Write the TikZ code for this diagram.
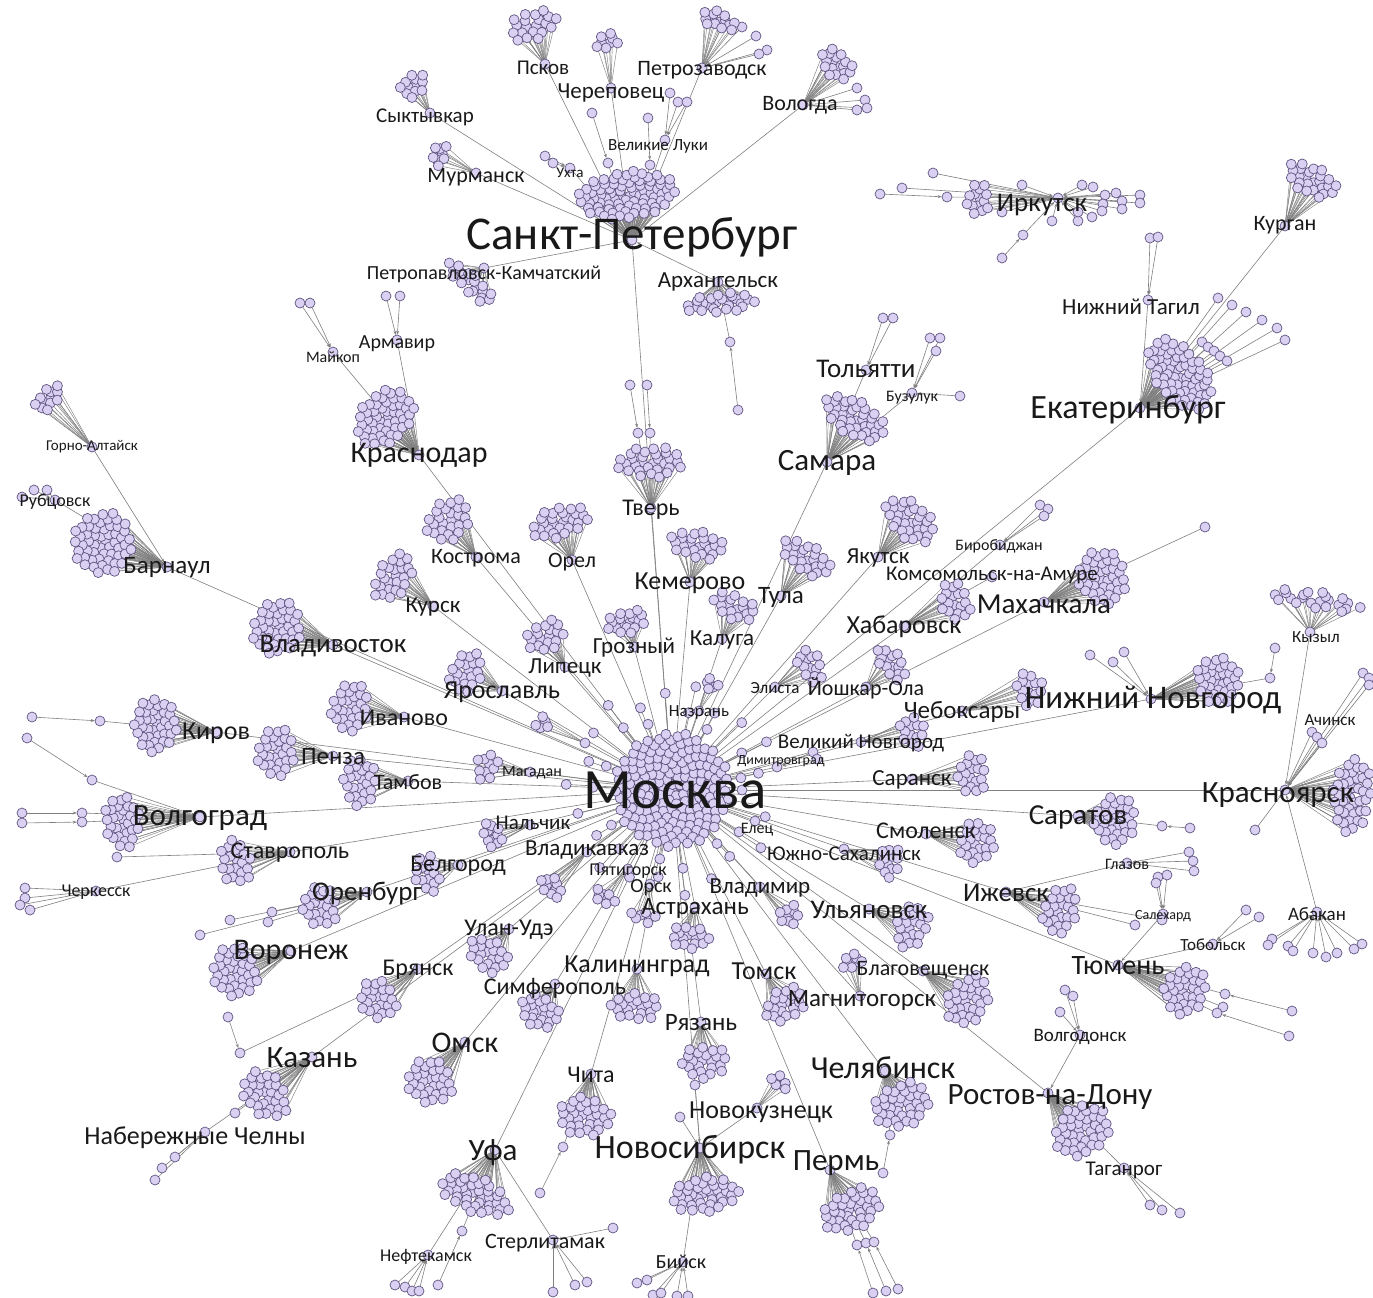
\documentclass[tikz,border=0pt]{standalone}
\usepackage{fontspec}
\setmainfont{Carlito}
\usetikzlibrary{arrows.meta}
\definecolor{nodefill}{RGB}{218,208,242}
\definecolor{nodeline}{RGB}{95,85,130}
\definecolor{edgecol}{RGB}{128,128,128}
\tikzset{
 vtx/.style={circle,draw=nodeline,fill=nodefill,line width=0.7pt,minimum size=10pt,inner sep=0pt},
 dot/.style={draw=nodeline,fill=nodefill,line width=0.7pt},
 fanedge/.style={draw=edgecol,line width=0.45pt},
 linkedge/.style={draw=edgecol,line width=0.6pt,shorten >=5.3pt,-{Stealth[length=4pt,width=3pt]}},
 lbl/.style={text=black!90,inner sep=0pt}
}
% cluster: id/hx/hy/bx/by/n/a/b
\def\clusterlist{spb/632/240/627/195/80/24/50,
pskov/545/64/533/25/20/16/25,
cher/611/88/607/42/8/9/13,
petr/702/68/718/20/14/9/20,
vol/803/105/837/65/18/13/20,
syk/430/113/413/85/12/12/15,
mur/476/173/440/155/8/8/13,
pk/484/268/470/283/20/10/30,
arh/718/282/720/303/26/10/38,
irk/1058/198/978/200/14/12/18,
kurg/1285/226/1312/180/25/15/28,
ekb/1140/408/1180/375/65/25/42,
kras/419/455/385/418/50/25/33,
ga/92/447/48/398/12/10/17,
barn/167/567/103/543/55/30/32,
tver/651/508/650/462/30/16/35,
sam/827/462/855/418/38/18/35,
kost/476/557/448/520/25/20/25,
orel/572/560/560/522/28/16/30,
kursk/433/606/393/577/25/17/27,
kem/690/582/697/545/24/15/28,
tula/781/596/806/558/24/15/28,
yak/878/557/910/520/30/18/30,
kal/722/639/735/607/18/13/25,
groz/634/647/627/622/18/12/22,
lip/565/667/546/636/18/15/22,
vlad/333/645/277/628/40/25/28,
yar/502/691/466/672/20/17/22,
iv/404/717/350/707/28/20/25,
hab/904/626/955/602/18/15/22,
mah/1044/602/1102/577/40/25/28,
el/775/687/810/665/14/12/20,
yo/866/687/892/664/15/12/20,
naz/699/711/712/685/5/6/10,
x1/585/743/543/723/5/7/10,
nn/1151/699/1218/680/35/22/25,
cheb/962/711/1030/690/15/15/18,
vn/861/742/912/732/13/13/18,
kir/216/732/155/725/38/22/28,
penza/333/756/276/752/28/20/25,
tamb/408/781/360/782/24/18/25,
mag/530/772/487/766/10/12/16,
sarn/912/779/972/775/18/15/22,
krs/1285/790/1352/795/40/20/38,
kyz/1310/632/1315/600/22/9/50,
vgg/200/817/122/822/30/18/28,
sarat/1078/816/1115/820/32/22/25,
stav/290/852/235/862/20/17/23,
nal/530/825/492/835/12/10/14,
vk/587/852/552/887/11/10/13,
pyat/628/869/605/897/8/7/13,
orsk/650/884/643/917/7/7/14,
smol/926/834/977/842/22/18/23,
ys/844/849/890/862/12/12/17,
belg/458/865/427/873/15/14/20,
oren/367/892/320/907/22/18/22,
izh/1006/892/1060/910/24/18/25,
ulyan/869/909/912/927/20/17/23,
vladim/760/887/790/915/9/10/13,
astr/695/907/690/937/16/13/20,
uu/509/929/488/955/20/17/22,
vor/291/951/235/972/35/23/27,
bry/418/969/378/1000/22/18/22,
kalin/637/969/635/1007/20/15/25,
simf/555/984/540/1012/22/16/22,
tomsk/766/974/785/1005/20/17/22,
blag/923/971/968/1000/30/20/28,
magn/860/996/852/962/8/8/12,
tyum/1118/965/1185/990/32/22/25,
ryaz/701/1022/705/1062/22/17/25,
omsk/465/1042/430/1082/30/22/25,
kaz/312/1057/265/1095/30/20/28,
chel/885/1071/902/1105/35/22/30,
rost/1048/1093/1082/1130/40/25/30,
chita/591/1074/585/1117/30/20/28,
nk/757/1108/780/1082/7/7/10,
nsk/700/1148/705/1195/38/18/35,
perm/830/1170/852/1210/35/20/32,
ufa/495/1150/475/1195/38/18/38}
% small hubs: id/x/y
\def\hublist{M/672/790,ukh/570/168,vl/665/140,nt/1148/300,mai/333/352,arm/397/340,rub/55/500,
tol/866/370,buz/912/393,bir/1000/545,kna/992/577,dim/777/767,elets/755/821,
cherk/96/891,sal/1163/914,tob/1213/944,glaz/1127/863,abak/1317/912,nch/205/1132,
tag/1124/1168,vdon/1080/1035,biysk/683/1262,neft/428/1255,sterl/553/1240}
% leaves: name/x/y/target
\def\leaflist{uk1/545/156/h-ukh,uk2/553/163/h-ukh,
vl1/670/93/h-vl,vl2/678/102/h-vl,vl3/687/102/h-vl,
sp1/650/165/h-spb,sp2/648/118/sp1,sp3/608/163/h-spb,sp4/592/113/sp3,
pe1/742/27/h-petr,pe2/756/36/h-petr,pe3/767/50/h-petr,pe4/759/54/h-petr,
vo1/857/88/h-vol,vo2/865/100/h-vol,vo3/857/110/h-vol,vo4/867/108/h-vol,
ar1/730/342/h-arh,ar2/738/410/ar1,
ir1/933/173/h-irk,ir2/902/188/h-irk,ir4/947/197/h-irk,ir3/880/194/ir4,
ir5/1022/185/h-irk,ir6/1082/185/h-irk,ir7/1093/187/h-irk,ir8/1105/195/h-irk,ir9/1116/193/h-irk,
ir10/1140/195/h-irk,ir11/1140/203/h-irk,ir12/1122/201/h-irk,ir13/1122/209/h-irk,ir14/1103/204/h-irk,
ir15/1102/211/h-irk,ir16/1092/217/h-irk,ir17/1078/221/h-irk,ir18/1078/212/h-irk,ir19/1052/221/h-irk,
ir20/1002/212/h-irk,ir21/1023/235/h-irk,ir22/1002/258/ir21,
nt1/1150/238/h-nt,nt2/1158/237/h-nt,
ek1/1202/342/h-ekb,ek2/1208/347/h-ekb,ek3/1214/351/h-ekb,ek4/1220/356/h-ekb,ek5/1227/361/h-ekb,
ek6/1218/298/h-ekb,ek7/1232/305/h-ekb,ek8/1246/312/h-ekb,ek9/1262/320/h-ekb,ek10/1277/328/h-ekb,ek11/1285/340/h-ekb,
ma1/300/303/h-mai,ma2/310/303/h-mai,am1/386/296/h-arm,am2/400/296/h-arm,
ru1/22/497/h-rub,ru2/34/490/h-rub,ru3/47/490/h-rub,
tv1/638/433/h-tver,tv2/650/433/h-tver,tv3/630/385/tv1,tv4/647/385/tv2,
to1/883/318/h-tol,to2/893/318/h-tol,
bu1/930/338/h-buz,bu2/940/338/h-buz,bu3/936/351/h-buz,bu4/960/396/h-buz,
bi1/1040/505/h-bir,bi2/1048/509/h-bir,bi3/1044/516/h-bir,
mh1/1205/527/h-mah,
dm1/813/752/h-dim,dm2/817/759/h-dim,
nn1/1090/655/h-nn,nn2/1113/662/h-nn,nn3/1124/652/h-nn,nn4/1270/678/h-nn,nn5/1275/648/nn4,
ac1/1312/732/h-krs,ac2/1317/737/h-krs,ac3/1322/743/h-krs,ac4/1363/673/h-krs,ac5/1369/678/h-krs,ac6/1369/685/h-krs,
kr1/1255/830/h-krs,
vg1/82/813/h-vgg,vg2/82/822/h-vgg,vg3/22/813/vg1,vg4/22/823/vg2,
ki1/100/721/h-kir,ki2/32/717/ki1,vg5/92/780/h-vgg,vg6/27/738/vg5,
st1/117/857/h-stav,
ck1/25/888/h-cherk,ck2/25/898/h-cherk,ck3/30/910/h-cherk,ck4/20/905/h-cherk,
or1/272/912/h-oren,or2/268/922/h-oren,or3/230/920/h-oren,or4/200/935/h-oren,
br1/240/1053/h-bry,br2/228/1017/br1,
ty1/1225/994/h-tyum,ty2/1223/1007/h-tyum,ty3/1217/1013/h-tyum,ty4/1292/1011/ty1,ty5/1289/1036/ty3,
sa1/1158/877/h-sal,sa2/1167/875/h-sal,sa3/1156/883/h-sal,
tb1/1246/910/h-tob,tb2/1259/917/h-tob,
gl1/1189/852/h-glaz,gl2/1193/861/h-glaz,gl3/1194/871/h-glaz,
iz1/1135/925/h-izh,iz2/1162/920/h-izh,
sr1/1162/826/h-sarat,sr2/1190/828/sr1,
ab1/1272/939/h-abak,ab2/1268/945/h-abak,ab3/1288/946/h-abak,ab4/1293/951/h-abak,ab5/1313/953/h-abak,
ab6/1326/957/h-abak,ab7/1337/953/h-abak,ab8/1354/949/h-abak,ab9/1362/944/h-abak,
kz1/235/1113/h-kaz,
nc1/175/1157/h-nch,nc2/162/1168/h-nch,nc3/155/1180/h-nch,
tg1/1150/1205/h-tag,tg2/1162/1210/h-tag,tg3/1180/1213/h-tag,
vd1/1065/990/h-vdon,vd2/1073/996/h-vdon,vd3/1060/1012/h-vdon,
ns1/695/1085/h-nsk,ns2/680/1117/h-nsk,
by1/637/1283/h-biysk,by2/647/1280/h-biysk,by3/653/1295/h-biysk,by4/661/1293/h-biysk,by5/677/1296/h-biysk,by6/688/1296/h-biysk,
pm1/857/1245/h-perm,pm2/866/1243/h-perm,pm3/874/1242/h-perm,pm4/873/1293/pm1,pm5/886/1291/pm2,pm6/898/1289/pm3,
ch1/890/1135/h-chel,ch2/883/1173/ch1,
nf1/395/1285/h-neft,nf2/405/1287/h-neft,nf3/412/1291/h-neft,nf4/419/1291/h-neft,
uf1/462/1231/h-ufa,uf2/438/1285/uf1,
sl1/613/1228/h-sterl,sl2/553/1292/h-sterl,sl3/575/1285/h-sterl,sl4/587/1282/h-sterl,
ct1/563/1147/h-chita,ct2/540/1193/ct1}
% hub links: child/parent
\def\linklist{pskov/spb,cher/spb,petr/spb,vol/spb,syk/spb,mur/spb,ukh/spb,vl/spb,pk/spb,arh/spb,
kurg/ekb,nt/ekb,mai/kras,arm/kras,ga/barn,rub/barn,tol/sam,buz/sam,bir/hab,kna/hab,
kyz/krs,abak/krs,cherk/stav,sal/tyum,tob/tyum,glaz/izh,nch/kaz,tag/rost,vdon/rost,
biysk/nsk,nk/nsk,neft/ufa,sterl/ufa,
spb/M,ekb/M,kras/M,barn/M,tver/M,sam/M,kost/M,orel/M,kursk/M,kem/M,tula/M,yak/M,kal/M,groz/M,
lip/M,vlad/M,yar/M,iv/M,hab/M,mah/M,el/M,yo/M,naz/M,x1/M,nn/M,cheb/M,vn/M,kir/M,penza/M,tamb/M,
mag/M,sarn/M,krs/M,vgg/M,sarat/M,stav/M,nal/M,vk/M,pyat/M,smol/M,ys/M,belg/M,oren/M,izh/M,
ulyan/M,vladim/M,astr/M,uu/M,vor/M,bry/M,kalin/M,simf/M,tomsk/M,blag/M,magn/M,tyum/M,ryaz/M,
omsk/M,kaz/M,chel/M,rost/M,chita/M,nsk/M,perm/M,ufa/M,dim/M,elets/M,orsk/M}

\newcommand\lab[5]{\node[lbl,font=\fontsize{#4}{#4}\selectfont] (t-#1) at (#2,#3) {#5};}

\begin{document}
\begin{tikzpicture}[x=1pt,y=-1pt]
\useasboundingbox (0,0) rectangle (1373,1298);
\fill[white] (0,0) rectangle (1373,1298);

% ---------- pass 1: coordinates ----------
\foreach \cI/\cHx/\cHy/\cBx/\cBy/\cN/\cA/\cB in \clusterlist {\coordinate (h-\cI) at (\cHx,\cHy);}
\foreach \cI/\cX/\cY in \hublist {\coordinate (h-\cI) at (\cX,\cY);}
\foreach \cI/\cX/\cY/\cT in \leaflist {\coordinate (\cI) at (\cX,\cY);}
\foreach \k in {0,...,35}{
 \pgfmathsetmacro\mA{\k*10+3*mod(\k*7,5)}
 \pgfmathsetmacro\mR{70+9*mod(\k*3,5)}
 \pgfmathsetmacro\mX{672+\mR*cos(\mA)}
 \pgfmathsetmacro\mY{790+\mR*sin(\mA)}
 \coordinate (ml-\k) at (\mX,\mY);
}

% ---------- pass 2: connectors ----------
\foreach \cC/\cP in \linklist {\draw[linkedge] (h-\cC) -- (h-\cP);}
\foreach \cI/\cX/\cY/\cT in \leaflist {\draw[linkedge] (\cI) -- (\cT);}
\foreach \k in {0,...,35}{\draw[linkedge] (ml-\k) -- (h-M);}
\foreach \i in {1,...,170}{
 \pgfmathsetmacro\mR{58*sqrt((\i-0.5)/170)}
 \pgfmathsetmacro\mP{mod(\i*13.7508,36)*10}
 \draw[fanedge] (h-M) -- ++(\mP:\mR);
}
\foreach \cI/\cHx/\cHy/\cBx/\cBy/\cN/\cA/\cB in \clusterlist {
 \pgfmathsetmacro\cAng{atan2((\cBy)-(\cHy),(\cBx)-(\cHx))}
 \foreach \i in {1,...,\cN}{
  \pgfmathsetmacro\cRr{sqrt((\i-0.5)/\cN)}
  \pgfmathsetmacro\cPh{mod(\i*13.7508,36)*10}
  \pgfmathsetmacro\cUu{\cA*\cRr*cos(\cPh)}
  \pgfmathsetmacro\cVv{\cB*\cRr*sin(\cPh)}
  \pgfmathsetmacro\cPx{\cBx+\cUu*cos(\cAng)-\cVv*sin(\cAng)}
  \pgfmathsetmacro\cPy{\cBy+\cUu*sin(\cAng)+\cVv*cos(\cAng)}
  \draw[fanedge] (h-\cI) -- (\cPx,\cPy);
 }
}

% ---------- pass 3: vertices ----------
\foreach \cI/\cX/\cY in \hublist {\node[vtx] (v-\cI) at (h-\cI) {};}
\foreach \cI/\cX/\cY/\cT in \leaflist {\node[vtx] (v-\cI) at (\cI) {};}
\foreach \k in {0,...,35}{\node[vtx] (v-ml-\k) at (ml-\k) {};}
\foreach \i in {1,...,170}{
 \pgfmathsetmacro\mR{58*sqrt((\i-0.5)/170)}
 \pgfmathsetmacro\mP{mod(\i*13.7508,36)*10}
 \path[dot] (h-M) ++(\mP:\mR) circle[radius=5];
}
\foreach \cI/\cHx/\cHy/\cBx/\cBy/\cN/\cA/\cB in \clusterlist {
 \node[vtx] (v-\cI) at (h-\cI) {};
 \pgfmathsetmacro\cAng{atan2((\cBy)-(\cHy),(\cBx)-(\cHx))}
 \foreach \i in {1,...,\cN}{
  \pgfmathsetmacro\cRr{sqrt((\i-0.5)/\cN)}
  \pgfmathsetmacro\cPh{mod(\i*13.7508,36)*10}
  \pgfmathsetmacro\cUu{\cA*\cRr*cos(\cPh)}
  \pgfmathsetmacro\cVv{\cB*\cRr*sin(\cPh)}
  \pgfmathsetmacro\cPx{\cBx+\cUu*cos(\cAng)-\cVv*sin(\cAng)}
  \pgfmathsetmacro\cPy{\cBy+\cUu*sin(\cAng)+\cVv*cos(\cAng)}
  \path[dot] (\cPx,\cPy) circle[radius=5];
 }
}

% ---------- labels ----------
\lab{msk}{675}{790}{57}{Москва}
\lab{spb}{632}{237}{47}{Санкт-Петербург}
\lab{pskov}{543}{68}{21}{Псков}
\lab{cher}{611}{93}{23}{Череповец}
\lab{petr}{702}{70}{22}{Петрозаводск}
\lab{vol}{800}{105}{22}{Вологда}
\lab{syk}{425}{117}{21}{Сыктывкар}
\lab{mur}{476}{177}{22}{Мурманск}
\lab{ukh}{570}{173}{15}{Ухта}
\lab{vl}{658}{146}{17}{Великие Луки}
\lab{pk}{484}{274}{20}{Петропавловск-Камчатский}
\lab{arh}{718}{282}{23}{Архангельск}
\lab{irk}{1042}{205}{27}{Иркутск}
\lab{kurg}{1285}{225}{22}{Курган}
\lab{nt}{1131}{307}{23}{Нижний Тагил}
\lab{ekb}{1128}{410}{34}{Екатеринбург}
\lab{mai}{333}{357}{16}{Майкоп}
\lab{arm}{397}{344}{20}{Армавир}
\lab{kras}{419}{455}{30}{Краснодар}
\lab{ga}{92}{447}{15}{Горно-Алтайск}
\lab{rub}{55}{502}{18}{Рубцовск}
\lab{barn}{167}{567}{25}{Барнаул}
\lab{tver}{651}{510}{24}{Тверь}
\lab{tol}{866}{369}{27}{Тольятти}
\lab{buz}{912}{398}{16}{Бузулук}
\lab{sam}{827}{463}{31}{Самара}
\lab{kost}{476}{558}{22}{Кострома}
\lab{orel}{572}{562}{22}{Орел}
\lab{kursk}{433}{607}{23}{Курск}
\lab{kem}{690}{583}{26}{Кемерово}
\lab{tula}{781}{597}{25}{Тула}
\lab{yak}{878}{558}{23}{Якутск}
\lab{kal}{722}{640}{23}{Калуга}
\lab{groz}{634}{648}{23}{Грозный}
\lab{lip}{565}{668}{23}{Липецк}
\lab{vlad}{333}{646}{27}{Владивосток}
\lab{yar}{502}{692}{26}{Ярославль}
\lab{iv}{404}{718}{24}{Иваново}
\lab{hab}{904}{627}{26}{Хабаровск}
\lab{mah}{1044}{604}{29}{Махачкала}
\lab{kna}{992}{575}{21}{Комсомольск-на-Амуре}
\lab{bir}{999}{546}{16}{Биробиджан}
\lab{el}{775}{688}{17}{Элиста}
\lab{yo}{866}{688}{22}{Йошкар-Ола}
\lab{naz}{699}{712}{17}{Назрань}
\lab{nn}{1153}{700}{33}{Нижний Новгород}
\lab{cheb}{962}{712}{25}{Чебоксары}
\lab{vn}{861}{743}{21}{Великий Новгород}
\lab{kir}{216}{733}{26}{Киров}
\lab{penza}{333}{757}{25}{Пенза}
\lab{tamb}{408}{782}{22}{Тамбов}
\lab{mag}{532}{773}{16}{Магадан}
\lab{dim}{781}{761}{14}{Димитровград}
\lab{sarn}{912}{780}{23}{Саранск}
\lab{krs}{1278}{795}{31}{Красноярск}
\lab{kyz}{1316}{637}{17}{Кызыл}
\lab{ach}{1330}{720}{17}{Ачинск}
\lab{vgg}{200}{818}{31}{Волгоград}
\lab{sarat}{1078}{817}{29}{Саратов}
\lab{stav}{290}{853}{24}{Ставрополь}
\lab{cherk}{96}{892}{18}{Черкесск}
\lab{nal}{533}{823}{21}{Нальчик}
\lab{vk}{587}{850}{23}{Владикавказ}
\lab{pyat}{628}{871}{18}{Пятигорск}
\lab{orsk}{651}{888}{20}{Орск}
\lab{smol}{926}{831}{24}{Смоленск}
\lab{ys}{844}{854}{21}{Южно-Сахалинск}
\lab{elets}{757}{830}{16}{Елец}
\lab{belg}{458}{866}{24}{Белгород}
\lab{oren}{367}{893}{27}{Оренбург}
\lab{izh}{1006}{893}{27}{Ижевск}
\lab{ulyan}{869}{910}{27}{Ульяновск}
\lab{vladim}{760}{888}{23}{Владимир}
\lab{astr}{695}{908}{25}{Астрахань}
\lab{uu}{509}{930}{24}{Улан-Удэ}
\lab{vor}{291}{952}{30}{Воронеж}
\lab{bry}{418}{970}{24}{Брянск}
\lab{kalin}{637}{966}{26}{Калининград}
\lab{simf}{555}{988}{24}{Симферополь}
\lab{tomsk}{764}{971}{26}{Томск}
\lab{blag}{923}{970}{22}{Благовещенск}
\lab{magn}{862}{1000}{25}{Магнитогорск}
\lab{tyum}{1118}{966}{28}{Тюмень}
\lab{sal}{1163}{916}{14}{Салехард}
\lab{tob}{1213}{945}{17}{Тобольск}
\lab{glaz}{1127}{864}{16}{Глазов}
\lab{abak}{1317}{914}{19}{Абакан}
\lab{ryaz}{701}{1023}{25}{Рязань}
\lab{omsk}{465}{1043}{30}{Омск}
\lab{kaz}{312}{1058}{31}{Казань}
\lab{nch}{195}{1138}{26}{Набережные Челны}
\lab{chel}{883}{1068}{32}{Челябинск}
\lab{rost}{1050}{1097}{31}{Ростов-на-Дону}
\lab{tag}{1124}{1170}{21}{Таганрог}
\lab{vdon}{1080}{1037}{19}{Волгодонск}
\lab{chita}{591}{1075}{24}{Чита}
\lab{nk}{761}{1112}{26}{Новокузнецк}
\lab{nsk}{690}{1150}{34}{Новосибирск}
\lab{perm}{836}{1163}{31}{Пермь}
\lab{ufa}{493}{1153}{31}{Уфа}
\lab{neft}{426}{1257}{18}{Нефтекамск}
\lab{sterl}{545}{1243}{22}{Стерлитамак}
\lab{biysk}{681}{1262}{20}{Бийск}
\end{tikzpicture}
\end{document}
